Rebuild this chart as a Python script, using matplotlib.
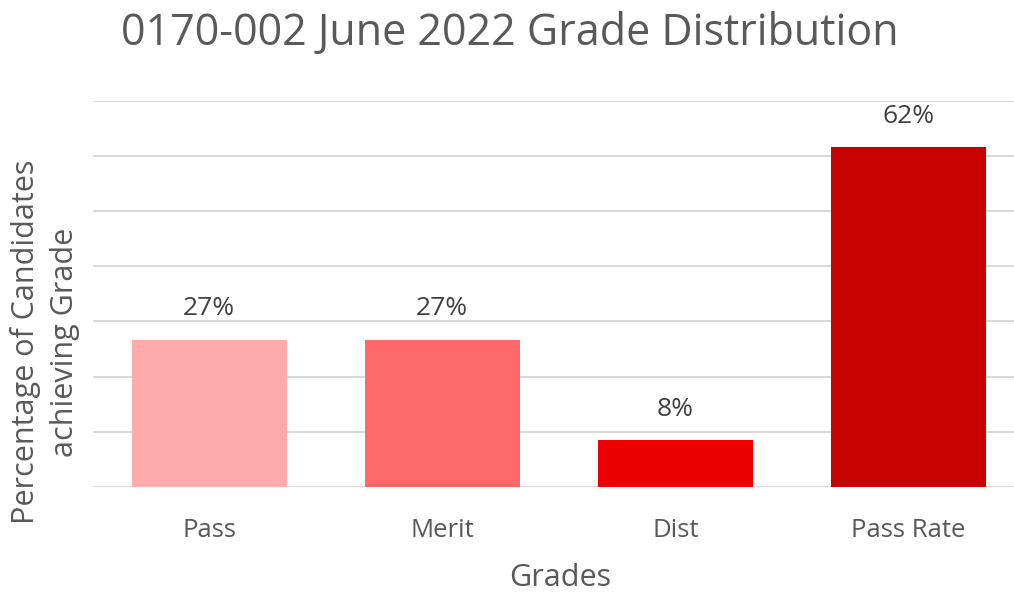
import matplotlib
matplotlib.use("Agg")
import matplotlib.pyplot as plt

categories = ["Pass", "Merit", "Dist", "Pass Rate"]
values = [26.7, 26.7, 8.4, 61.6]
colors = ["#FFABAB", "#FF6969", "#EE0000", "#C70000"]
yticks = [0, 10, 20, 30, 40, 50, 60, 70]

plt.rcParams['font.family'] = ['Open Sans', 'DejaVu Sans']
txt = "#595959"

fig = plt.figure(figsize=(10.14, 5.93), dpi=100)
ax = fig.add_axes([92.5/1014, 106.3/593, 932.5/1014, 385.7/593])
x = list(range(len(categories)))
ax.bar(x, values, width=0.665, color=colors, zorder=3)
ax.set_xlim(-0.5, 3.5)
ax.set_ylim(0, 70)
ax.set_yticks(yticks)
ax.yaxis.grid(True, color="#D9D9D9", linewidth=1.5, zorder=0)
ax.tick_params(axis='y', left=False, labelleft=False)
ax.tick_params(axis='x', bottom=False, labelsize=18.5, colors=txt, pad=19)
ax.set_xticks(x)
ax.set_xticklabels(categories)
for s in ax.spines.values():
    s.set_visible(False)
for xi, v in zip(x, values):
    ax.annotate(f"{round(v):d}%", (xi, v), xytext=(0, 13.5), textcoords="offset points",
                ha="center", va="bottom", fontsize=19, color="#404040")

fig.text(510/1014, 1 - 34/593, "0170-002 June 2022 Grade Distribution",
         ha="center", va="center", fontsize=31, color=txt)
fig.text(45/1014, 1 - 342/593, "Percentage of Candidates\nachieving Grade",
         ha="center", va="center", rotation=90, fontsize=22, color=txt,
         linespacing=1.4)
fig.text(560/1014, 1 - 578/593, "Grades", ha="center", va="center",
         fontsize=22, color=txt)

fig.savefig("out.png", dpi=100)
